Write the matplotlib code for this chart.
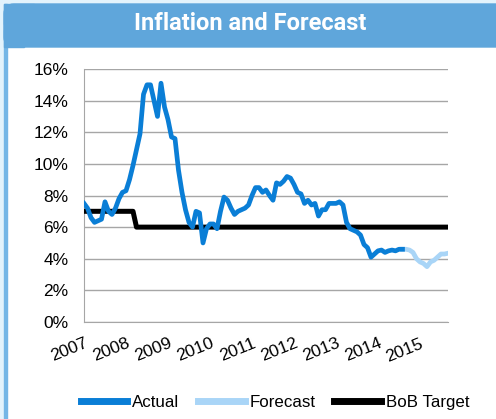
import matplotlib
matplotlib.use('Agg')
import matplotlib.pyplot as plt
import numpy as np
from matplotlib.patches import Rectangle, FancyBboxPatch
from matplotlib.lines import Line2D
from matplotlib.ticker import FuncFormatter

# monthly inflation, Jan 2007 .. Aug 2014
actual = [7.5, 7.2, 6.6, 6.3, 6.4, 6.5, 7.6, 7.0, 6.8, 7.2, 7.8, 8.2,
          8.3, 9.0, 9.9, 10.9, 11.9, 14.4, 15.0, 15.0, 14.0, 13.0, 15.1, 13.6,
          12.8, 11.7, 11.6, 9.6, 8.2, 7.1, 6.3, 6.0, 7.0, 6.9, 5.0, 5.9,
          6.2, 6.2, 5.9, 7.0, 7.9, 7.7, 7.2, 6.8, 7.0, 7.1, 7.2, 7.4,
          8.0, 8.5, 8.5, 8.2, 8.35, 8.0, 7.7, 8.8, 8.7, 8.9, 9.2, 9.1,
          8.7, 8.2, 8.1, 7.5, 7.7, 7.4, 7.5, 6.7, 7.1, 7.1, 7.5, 7.5,
          7.5, 7.6, 7.4, 6.3, 5.9, 5.8, 5.7, 5.5, 4.9, 4.7, 4.1, 4.3,
          4.5, 4.55, 4.4, 4.5, 4.55, 4.5, 4.6, 4.6]
# forecast, Aug 2014 .. Sep 2015
forecast = [4.6, 4.6, 4.55, 4.4, 4.0, 3.8, 3.7, 3.5, 3.8, 3.9, 4.1, 4.3, 4.3, 4.35]
# BoB objective: 7% until early 2008, then 6%
target_high_months = 15
n_months = len(actual) + len(forecast) - 1
target = [7.0 if m < target_high_months else 6.0 for m in range(n_months)]
years = list(range(2007, 2016))

W, H = 496, 419
fig = plt.figure(figsize=(W / 100, H / 100), dpi=100)
fig.patch.set_facecolor('white')

px = fig.dpi_scale_trans
def r(x, y, w, h, **kw):
    # rectangle in pixel coords measured from top-left
    fig.patches.append(Rectangle(((x) / 100, (H - y - h) / 100), w / 100, h / 100,
                                 transform=px, **kw))

# outer light frame
r(0, 0, W, 4, color='#e3f3fc', zorder=0)
r(0, 0, 4, H, color='#e3f3fc', zorder=0)
r(4, 4, 3, H, color='#74b6e6', zorder=0)

# title banner with rounded top-right corner
banner = '#5fa6db'
fig.patches.append(FancyBboxPatch((4 / 100, (H - 47) / 100), (W + 20 - 4) / 100, 43 / 100,
                                  boxstyle='round,pad=0,rounding_size=0.1',
                                  transform=px, color=banner, zorder=1))
r(4, 4, 30, 20, color=banner, zorder=1)
r(4, 30, 20, 17, color=banner, zorder=1)
fig.text(250 / W, 1 - 24 / H, 'Inflation and Forecast', color='white',
         fontsize=17, fontweight='bold', ha='center', va='center',
         family=['Liberation Sans Narrow', 'Roboto', 'DejaVu Sans'])

ax = fig.add_axes([84 / W, 1 - 322 / H, 364 / W, 253 / H])
t_all = [2007 + m / 12 for m in range(n_months)]
t_act = t_all[:len(actual)]
t_fc = t_all[len(actual) - 1:]

ax.plot(t_all, target, color='black', lw=3.6, solid_capstyle='butt', zorder=3)
ax.plot(t_fc, forecast, color='#a9d5f7', lw=3.4, zorder=4)
ax.plot(t_act, actual, color='#0a7ed6', lw=3.4, zorder=5)

ax.set_xlim(2007, t_all[-1])
ax.set_ylim(0, 16)
ax.set_yticks(range(0, 17, 2))
ax.yaxis.set_major_formatter(FuncFormatter(lambda v, p: f'{v:.0f}%'))
ax.set_xticks(years)
ax.set_xticklabels([str(y) for y in years], rotation=22, ha='right',
                   va='top', rotation_mode='anchor')
ax.tick_params(axis='both', length=0, labelsize=12.5, colors='black')
ax.tick_params(axis='y', pad=11)
ax.tick_params(axis='x', pad=10)
for lab in ax.get_xticklabels() + ax.get_yticklabels():
    lab.set_family('Liberation Sans')
ax.grid(axis='y', color='#a6a6a6', lw=1)
ax.set_axisbelow(True)
for s in ['top', 'right']:
    ax.spines[s].set_visible(False)
for s in ['left', 'bottom']:
    ax.spines[s].set_color('#a6a6a6')

handles = [Line2D([], [], color='#0a7ed6', lw=5),
           Line2D([], [], color='#a9d5f7', lw=5),
           Line2D([], [], color='black', lw=5)]
fig.legend(handles, ['Actual', 'Forecast', 'BoB Target'], loc='center',
           bbox_to_anchor=(275 / W, 1 - 402 / H), ncol=3, frameon=False,
           prop={'family': 'Liberation Sans', 'size': 12.2},
           handlelength=2.75, handletextpad=0.3, columnspacing=1.1)

fig.savefig('out.png', dpi=100)
